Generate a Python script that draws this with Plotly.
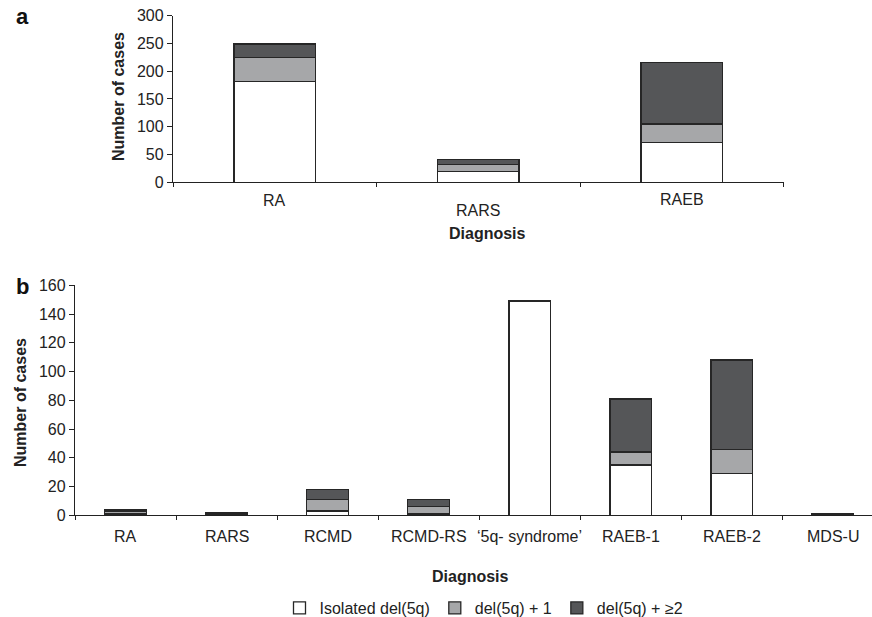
import plotly.graph_objects as go

# Panel a data
cats_a = ["RA", "RARS", "RAEB"]
iso_a = [181, 20, 72]
plus1_a = [43, 12, 33]
plus2_a = [25, 9, 111]

# Panel b data
cats_b = ["RA", "RARS", "RCMD", "RCMD-RS", "\u20185q- syndrome\u2019", "RAEB-1", "RAEB-2", "MDS-U"]
iso_b = [1, 0, 3, 1, 149, 35, 29, 0]
plus1_b = [2, 1, 8, 5, 0, 9, 17, 0]
plus2_b = [1, 1, 7, 5, 0, 37, 62, 1]

series_names = ["Isolated del(5q)", "del(5q) + 1", "del(5q) + \u22652"]
colors = ["#ffffff", "#a6a7a9", "#555658"]
edge = "#262626"
FONT = "Liberation Sans, Arial, Helvetica, sans-serif"
FS = 16

W, H = 872, 617
def px(x):
    return x / W
def py(y):
    return 1 - y / H

fig = go.Figure()
for vals, name, col in zip([iso_a, plus1_a, plus2_a], series_names, colors):
    fig.add_trace(go.Bar(x=cats_a, y=vals, name=name, marker=dict(color=col, line=dict(color=edge, width=1.3)),
                         width=0.4, xaxis="x", yaxis="y", showlegend=False))
for vals, name, col in zip([iso_b, plus1_b, plus2_b], series_names, colors):
    fig.add_trace(go.Bar(x=cats_b, y=vals, name=name, marker=dict(color=col, line=dict(color=edge, width=1.3)),
                         width=0.41, xaxis="x2", yaxis="y2", showlegend=True))

axis_common = dict(showline=True, linecolor="#222222", linewidth=1.3, ticks="outside",
                   tickcolor="#222222", showgrid=False, zeroline=False, automargin=False,
                   tickfont=dict(family=FONT, size=FS, color="#222222"))
xaxis_common = {k: v for k, v in axis_common.items() if k != "tickfont"}

fig.update_layout(
    template="none",
    width=W, height=H, barmode="stack", plot_bgcolor="white", paper_bgcolor="white",
    margin=dict(l=0, r=0, t=0, b=0, pad=0, autoexpand=False),
    font=dict(family=FONT, color="#222222"),
    xaxis=dict(domain=[px(173), px(783.5)], type="category", categoryarray=cats_a,
               range=[-0.5, 2.5], tickson="boundaries", ticklen=4, showticklabels=False,
               anchor="y", **xaxis_common),
    yaxis=dict(domain=[py(182.3), py(15.5)], range=[0, 300], dtick=50, ticklen=5, anchor="x",
               **axis_common),
    xaxis2=dict(domain=[px(75), 1.0], type="category", categoryarray=cats_b,
                range=[-0.5, 7.39], tickson="boundaries", ticklen=4, showticklabels=False,
                anchor="y2", **xaxis_common),
    yaxis2=dict(domain=[py(515.3), py(285.3)], range=[0, 160], dtick=20, ticklen=5, anchor="x2",
                **axis_common),
    legend=dict(orientation="h", x=px(484), xanchor="center", y=py(608), yanchor="middle",
                font=dict(family=FONT, size=FS, color="#222222"), traceorder="normal",
                bgcolor="rgba(0,0,0,0)"),
)

ann = []
# panel a category labels (RARS staggered)
shifts_a = [-18, -28.5, -17]
for c, s in zip(cats_a, shifts_a):
    ann.append(dict(x=c, y=0, xref="x", yref="y", yshift=s, xanchor="center", yanchor="middle",
                    showarrow=False, text=c, font=dict(family=FONT, size=FS, color="#222222")))
for c in cats_b:
    ann.append(dict(x=c, y=0, xref="x2", yref="y2", yshift=-21.5, xanchor="center", yanchor="middle",
                    showarrow=False, text=c, font=dict(family=FONT, size=FS, color="#222222")))


def label(x, y, text, size=FS, angle=0, color="#222222"):
    return dict(x=px(x), y=py(y), xref="paper", yref="paper", text=text, showarrow=False,
                xanchor="center", yanchor="middle", textangle=angle,
                font=dict(family=FONT, size=size, color=color))

ann += [
    label(487, 233, "<b>Diagnosis</b>"),
    label(470, 576, "<b>Diagnosis</b>"),
    label(118, 97, "<b>Number of cases</b>", angle=-90),
    label(20, 403, "<b>Number of cases</b>", angle=-90),
    label(22, 17, "<b>a</b>", size=22, color="#111111"),
    label(22, 287, "<b>b</b>", size=22, color="#111111"),
]
fig.update_layout(annotations=ann)

fig.write_html("out.html", config={"displayModeBar": False},
               post_script="document.body.style.margin='0';document.body.style.padding='0';")
